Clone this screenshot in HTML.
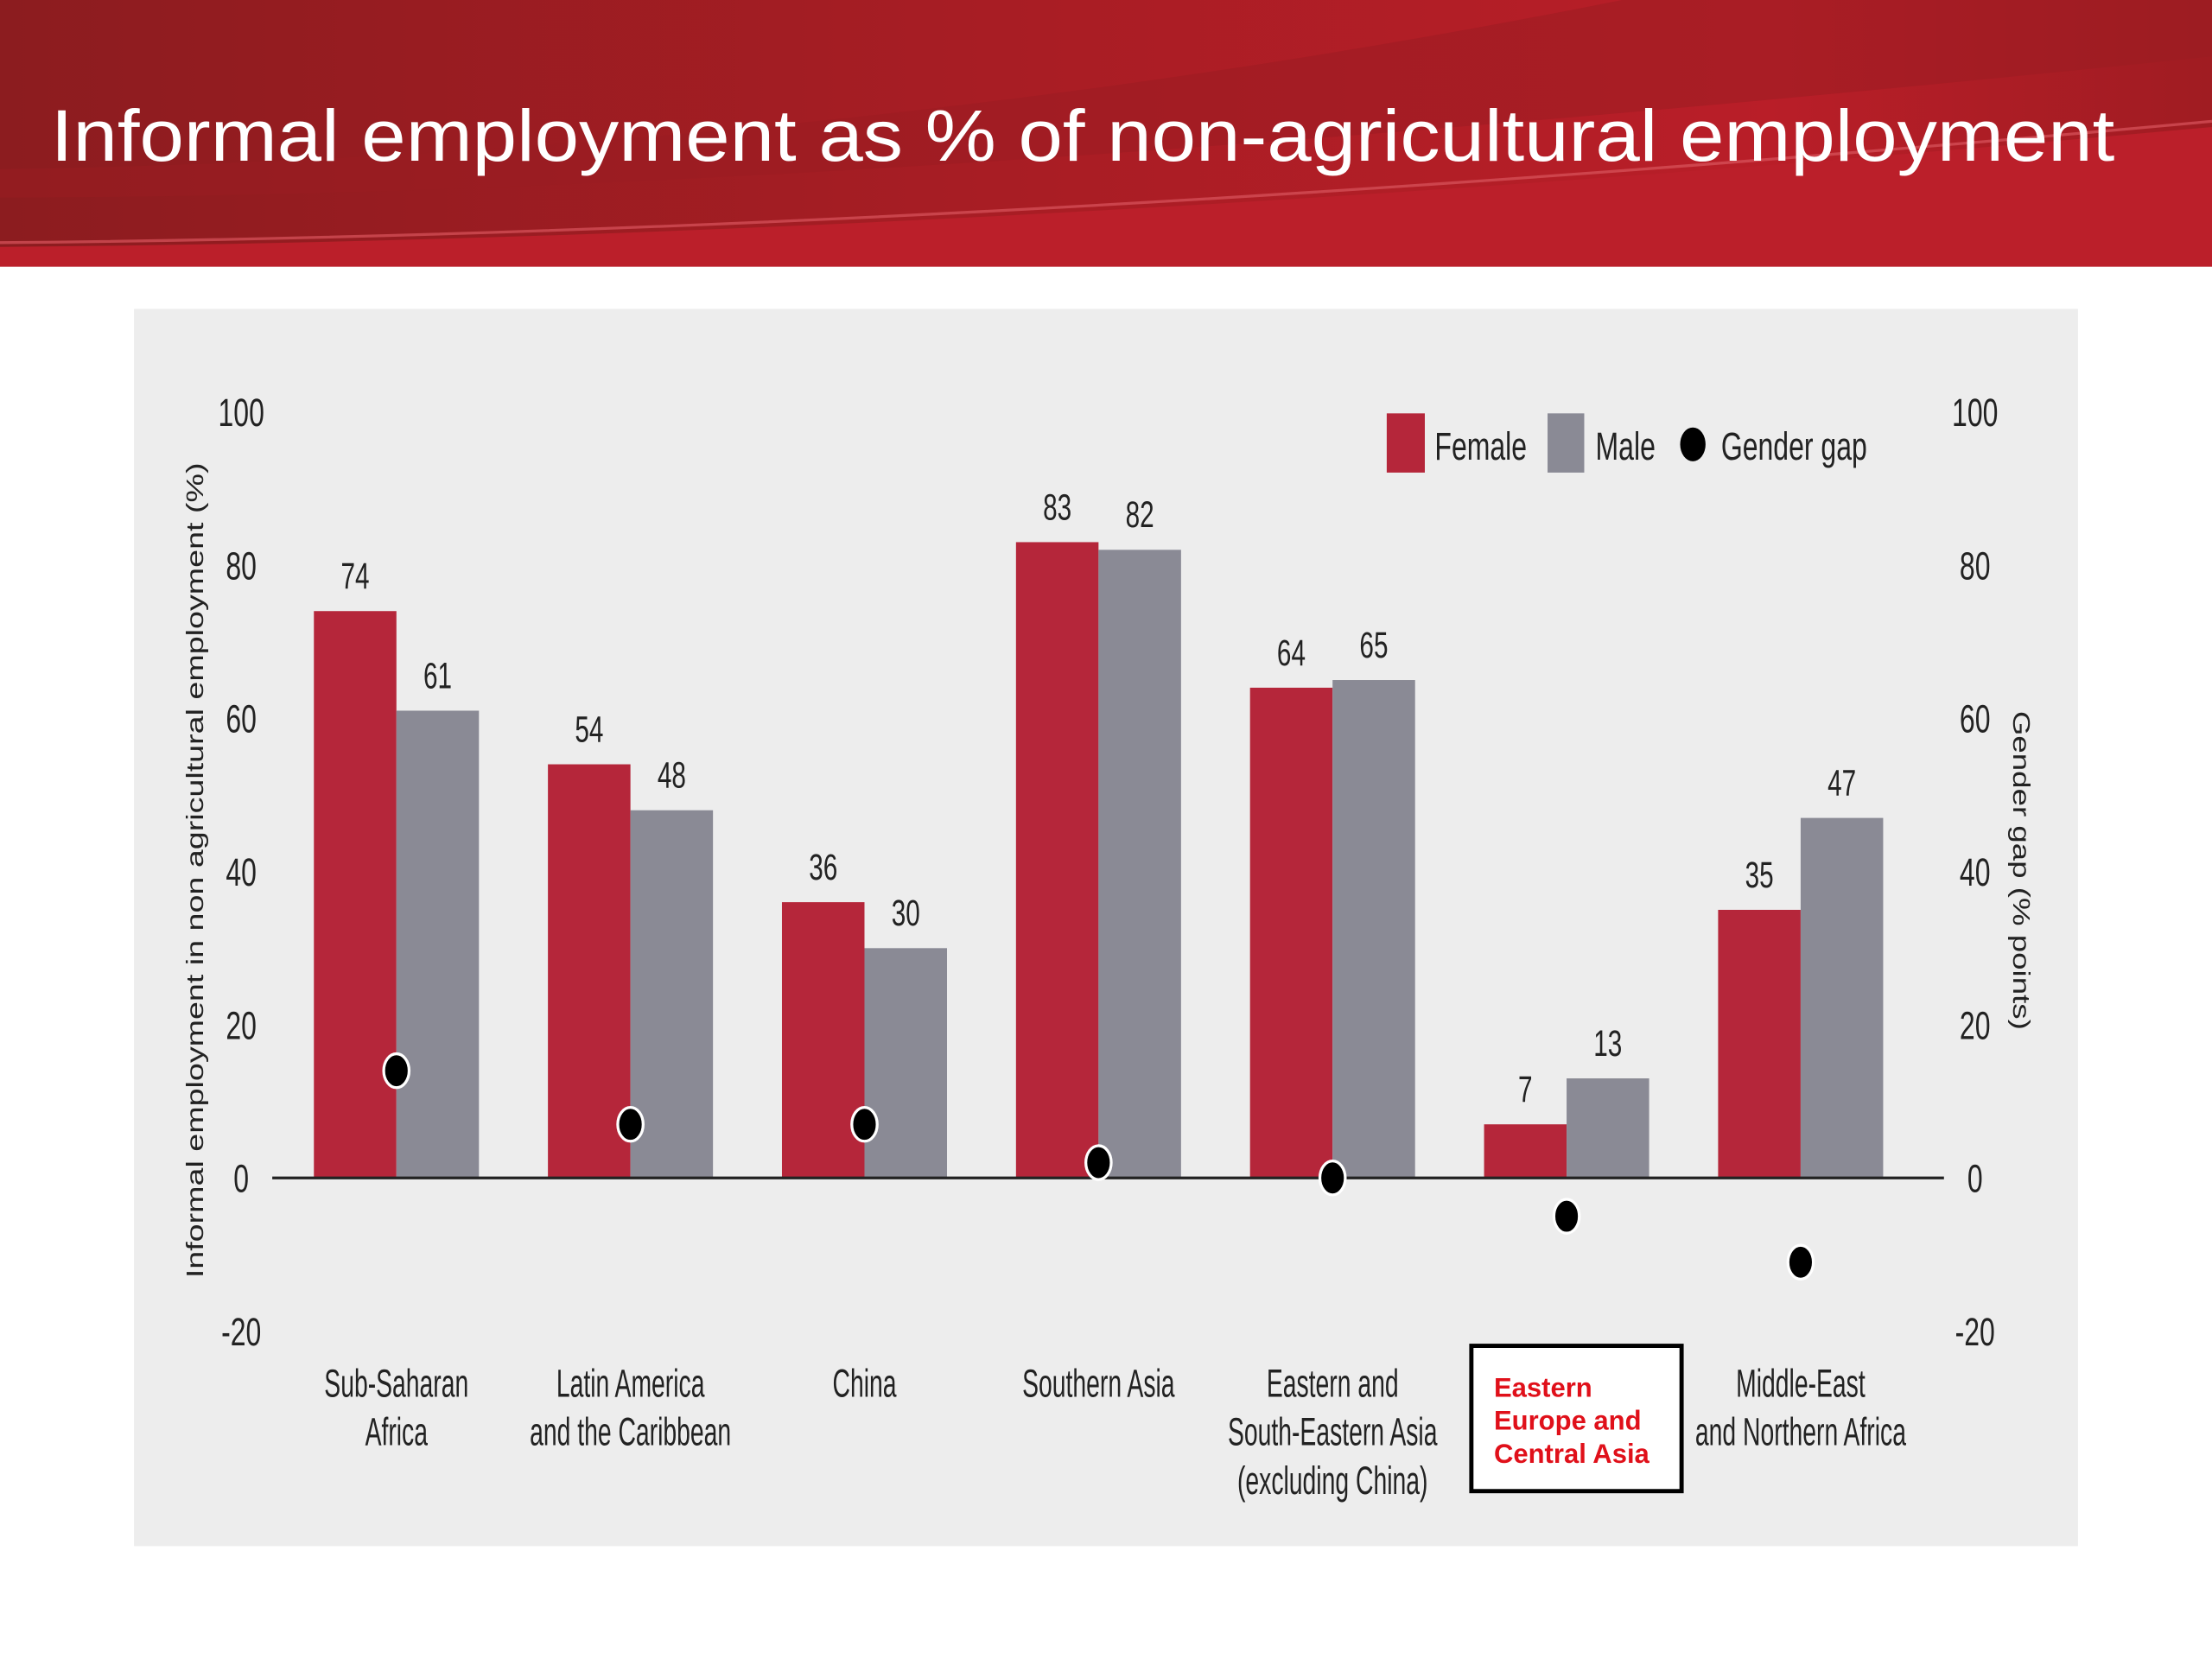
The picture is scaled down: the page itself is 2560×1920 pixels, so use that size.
<!DOCTYPE html>
<html><head><meta charset="utf-8"><style>
html,body{margin:0;padding:0;background:#fff;}
svg{display:block;}
.t{font-family:"Liberation Sans",sans-serif;fill:#222;}
</style></head><body>
<svg width="2560" height="1920" viewBox="0 0 1568 1176" xmlns="http://www.w3.org/2000/svg">
<defs>
<linearGradient id="hg" x1="0" y1="0" x2="1" y2="0">
<stop offset="0" stop-color="#8c1c1f"/><stop offset="0.45" stop-color="#a81d24"/><stop offset="0.8" stop-color="#b91e28"/><stop offset="1" stop-color="#a01c22"/>
</linearGradient>
</defs>
<g>
<rect x="0" y="0" width="1568" height="189" fill="url(#hg)"/>
<path d="M0 140 Q600 140 1568 40 L1568 0 L1150 0 Q600 110 0 120 Z" fill="#9a1b21" opacity="0.5"/>
<path d="M0 175 Q700 170 1568 90 L1568 189 L0 189 Z" fill="#bb1f2a"/>
<path d="M0 172 Q700 166 1568 86" stroke="#d9545c" stroke-width="2" fill="none" opacity="0.7"/>
<text x="36" y="114" font-family="'Liberation Sans',sans-serif" font-size="52" fill="#fff" textLength="1463" lengthAdjust="spacingAndGlyphs">Informal employment as % of non-agricultural employment</text>
</g>
<rect x="95" y="219" width="1378" height="877" fill="#ededed"/>
<g id="chart"></g>
</svg>
<script>
const categories=[["Sub-Saharan","Africa"],["Latin America","and the Caribbean"],["China"],["Southern Asia"],["Eastern and","South-Eastern Asia","(excluding China)"],["Eastern","Europe and","Central Asia"],["Middle-East","and Northern Africa"]];
const femaleValues=[74,54,36,83,64,7,35];
const maleValues=[61,48,30,82,65,13,47];
const gapValues=[14,7,7,2,0,-5,-11];
const yTicks=[-20,0,20,40,60,80,100];
const NS="http://www.w3.org/2000/svg";
const g=document.getElementById('chart');
function y(v){return 835-v*5.43;}
function cx(i){return 281+i*165.9;}
function el(tag,attrs,parent){const e=document.createElementNS(NS,tag);for(const k in attrs)e.setAttribute(k,attrs[k]);(parent||g).appendChild(e);return e;}
function ntext(x,yy,str,size,anchor,parent,sx){
  const e=el('text',{x:0,y:0,transform:'translate('+x+','+yy+') scale('+(sx||0.7)+',1)','text-anchor':anchor,'font-size':size,class:'t'},parent);
  e.textContent=str;return e;
}
const bw=58.5;
yTicks.forEach(v=>{
  const a=ntext(171,y(v)+10,String(v),28,'middle');
  
  
  const b=ntext(1400,y(v)+10,String(v),28,'middle');
  
  
});
categories.forEach((c,i)=>{
  const x=cx(i);
  const f=el('rect',{x:x-bw,y:y(femaleValues[i]),width:bw,height:y(0)-y(femaleValues[i]),fill:'#b5263a'});
  
  
  const m=el('rect',{x:x,y:y(maleValues[i]),width:bw,height:y(0)-y(maleValues[i]),fill:'#8a8a95'});
  
  
  const fl=ntext(x-bw/2,y(femaleValues[i])-16,String(femaleValues[i]),26,'middle');
  
  
  const ml=ntext(x+bw/2,y(maleValues[i])-16,String(maleValues[i]),26,'middle');
  
  
  if(i===5){
    const bx=el('rect',{x:1043,y:954,width:149,height:103,fill:'#fff',stroke:'#000','stroke-width':3});
    
    
    c.forEach((s,k)=>{const t=el('text',{x:1059,y:990+k*23.5,'font-size':19,'font-weight':'bold','font-family':'Liberation Sans, sans-serif',fill:'#e0101a'});t.textContent=s;
      
      });
  } else {
    c.forEach((s,k)=>{const t=ntext(x,990+k*34.5,s,28,'middle',null,0.62);
      
      });
  }
});
const ax=el('line',{x1:193,y1:y(0),x2:1378,y2:y(0),stroke:'#222','stroke-width':2});


gapValues.forEach((v,i)=>{
  const d=el('ellipse',{cx:cx(i),cy:y(v),rx:9,ry:12,fill:'#000',stroke:'#fff','stroke-width':2});
  
  
});
const yl=el('text',{transform:'translate(144,617) rotate(-90)','text-anchor':'middle','font-size':17,'font-family':'Liberation Sans, sans-serif',fill:'#222',textLength:578,lengthAdjust:'spacingAndGlyphs'});
yl.textContent='Informal employment in non agricultural employment (%)';


const yr=el('text',{transform:'translate(1427,617) rotate(90)','text-anchor':'middle','font-size':17,'font-family':'Liberation Sans, sans-serif',fill:'#222',textLength:226,lengthAdjust:'spacingAndGlyphs'});
yr.textContent='Gender gap (% points)';


const lg=el('g',{});


const l1=el('rect',{x:983,y:293,width:27,height:42,fill:'#b5263a'},lg);


const t1=ntext(1017,326,'Female',28,'start',lg);


const l2=el('rect',{x:1097,y:293,width:26,height:42,fill:'#8a8a95'},lg);


const t2=ntext(1131,326,'Male',28,'start',lg);


const l3=el('ellipse',{cx:1200,cy:315,rx:9,ry:12,fill:'#000'},lg);


const t3=ntext(1220,326,'Gender gap',28,'start',lg);


</script>
</body></html>
